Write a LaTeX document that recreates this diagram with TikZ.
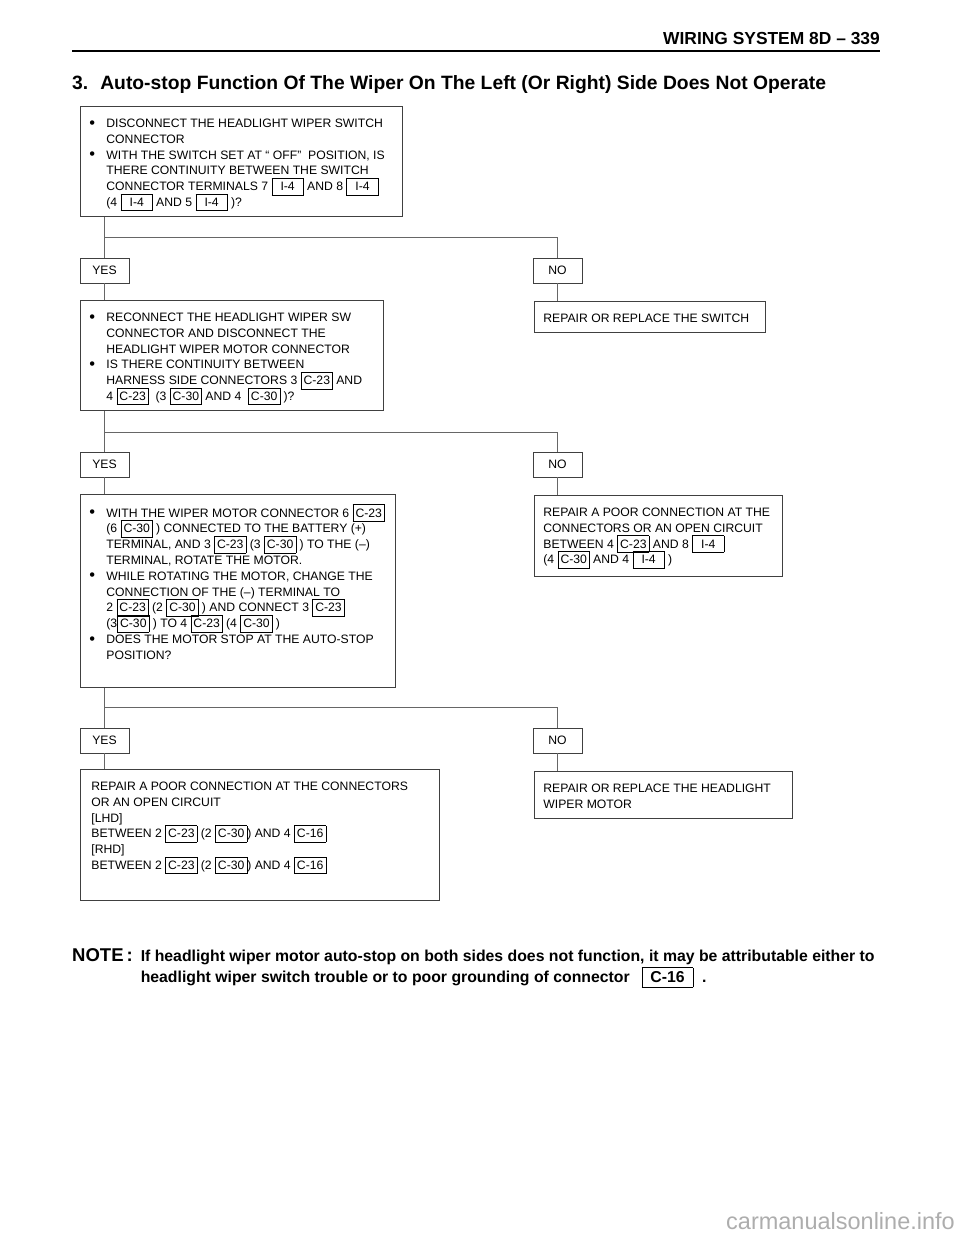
\documentclass[tikz,border=0pt]{standalone}
\usepackage{fontspec}
\setmainfont{Liberation Sans}
\usetikzlibrary{positioning}

\newcommand\bodyfont{\fontsize{12.2}{15.8}\selectfont}
% connector number in a small frame
\newcommand\conn[1]{{\setlength\fboxsep{0pt}\setlength\fboxrule{0.6pt}\fbox{\rule[-4pt]{0pt}{16pt}\hspace{2.5pt}\makebox[26pt]{#1}\hspace{2.5pt}}}}
\newcommand\bul{\par\hangindent=17pt\hangafter=1\noindent\makebox[17pt][l]{\strut\raisebox{-0.6pt}{\scalebox{1.35}{\textbullet}}}}
\newcommand\panel[3]{\begin{minipage}[t][#2pt][t]{#1pt}\lineskiplimit=-50pt\lineskip=0pt #3\end{minipage}}

\tikzset{
  stepbox/.style={draw=black!75, line width=0.8pt, anchor=north west, inner xsep=9pt, inner ysep=10pt, font=\bodyfont},
  answer/.style={draw=black!75, line width=0.8pt, minimum width=49pt, minimum height=25pt, inner sep=0pt, font=\bodyfont},
  link/.style={draw=black!60, line width=0.8pt},
}

\begin{document}
\begin{tikzpicture}[x=1pt, y=-1pt]
  \useasboundingbox (0,0) rectangle (960,1242);

  % Heading
  \node[anchor=base east, inner sep=0pt, font=\bfseries\fontsize{17.4}{20}\selectfont] (pagehead) at (880,44) {WIRING SYSTEM 8D – 339};
  \draw[line width=2.4pt] (72,51) -- (880,51);
  \node[anchor=base west, inner sep=0pt, font=\bfseries\fontsize{19.3}{22}\selectfont] (title) at (72,89) {3.\hspace{12pt}Auto-stop Function Of The Wiper On The Left (Or Right) Side Does Not Operate};

  % Checks
  \node[stepbox] (chk1) at (80,106) {\panel{304}{90}{%
    \bul DISCONNECT THE HEADLIGHT WIPER SWITCH\\CONNECTOR
    \bul WITH THE SWITCH SET AT “ OFF”\ \ POSITION, IS\\THERE CONTINUITY BETWEEN THE SWITCH\\CONNECTOR TERMINALS 7 \conn{I-4} AND 8 \conn{I-4}\\(4 \conn{I-4} AND 5 \conn{I-4} )?}};
  \node[answer] (yes1) at (104.5,270.5) {YES};
  \node[answer] (no1) at (557.5,270.5) {NO};
  \node[stepbox] (fix1) at (534,301) {\panel{213}{11}{\strut REPAIR OR REPLACE THE SWITCH}};

  \node[stepbox] (chk2) at (80,300) {\panel{285}{90}{%
    \bul RECONNECT THE HEADLIGHT WIPER SW\\CONNECTOR AND DISCONNECT THE\\HEADLIGHT WIPER MOTOR CONNECTOR
    \bul IS THERE CONTINUITY BETWEEN\\HARNESS SIDE CONNECTORS 3 \conn{C-23} AND\\4 \conn{C-23}\ \ (3 \conn{C-30} AND 4\ \ \conn{C-30} )?}};
  \node[answer] (yes2) at (104.5,464.5) {YES};
  \node[answer] (no2) at (557.5,464.5) {NO};
  \node[stepbox] (fix2) at (534,495) {\panel{230}{61}{\strut REPAIR A POOR CONNECTION AT THE\\CONNECTORS OR AN OPEN CIRCUIT\\BETWEEN 4 \conn{C-23} AND 8 \conn{I-4}\\(4 \conn{C-30} AND 4 \conn{I-4} )}};

  \node[stepbox] (chk3) at (80,494) {\panel{297}{173}{%
    \bul WITH THE WIPER MOTOR CONNECTOR 6 \conn{C-23}\\(6 \conn{C-30} ) CONNECTED TO THE BATTERY (+)\\TERMINAL, AND 3 \conn{C-23} (3 \conn{C-30} ) TO THE (–)\\TERMINAL, ROTATE THE MOTOR.
    \bul WHILE ROTATING THE MOTOR, CHANGE THE\\CONNECTION OF THE (–) TERMINAL TO\\2 \conn{C-23} (2 \conn{C-30} ) AND CONNECT 3 \conn{C-23}\\(3\conn{C-30} ) TO 4 \conn{C-23} (4 \conn{C-30} )
    \bul DOES THE MOTOR STOP AT THE AUTO-STOP\\POSITION?}};
  \node[answer] (yes3) at (104.5,740.5) {YES};
  \node[answer] (no3) at (557.5,740.5) {NO};
  \node[stepbox] (fix3) at (534,771) {\panel{240}{27}{\strut REPAIR OR REPLACE THE HEADLIGHT\\WIPER MOTOR}};
  \node[stepbox, inner xsep=11pt] (fix4) at (80,769) {\panel{337}{111}{\strut REPAIR A POOR CONNECTION AT THE CONNECTORS\\OR AN OPEN CIRCUIT\\{[LHD]}\\BETWEEN 2 \conn{C-23} (2 \conn{C-30}) AND 4 \conn{C-16}\\{[RHD]}\\BETWEEN 2 \conn{C-23} (2 \conn{C-30}) AND 4 \conn{C-16}}};

  % Forks
  \coordinate (fork1) at (104,237);
  \coordinate (fork2) at (104,432);
  \coordinate (fork3) at (104,707);

  % Connections
  \draw[link] (chk1.south -| yes1.north) -- (yes1.north);
  \draw[link] (fork1 -| yes1.north) -| (no1.north);
  \draw[link] (yes1.south) -- (yes1.south |- chk2.north);
  \draw[link] (no1.south) -- (no1.south |- fix1.north);
  \draw[link] (chk2.south -| yes2.north) -- (yes2.north);
  \draw[link] (fork2 -| yes2.north) -| (no2.north);
  \draw[link] (yes2.south) -- (yes2.south |- chk3.north);
  \draw[link] (no2.south) -- (no2.south |- fix2.north);
  \draw[link] (chk3.south -| yes3.north) -- (yes3.north);
  \draw[link] (fork3 -| yes3.north) -| (no3.north);
  \draw[link] (yes3.south) -- (yes3.south |- fix4.north);
  \draw[link] (no3.south) -- (no3.south |- fix3.north);

  % Note
  \node[anchor=north west, inner sep=0pt, font=\bfseries\fontsize{15.8}{20}\selectfont] (note) at (72,947) {%
    \begin{tabular}{@{}l@{\hspace{8pt}}l@{}}
      {\fontsize{18.5}{20}\selectfont NOTE\hspace{3pt}:} & If headlight wiper motor auto-stop on both sides does not function, it may be attributable either to\\
      & headlight wiper switch trouble or to poor grounding of connector\hspace{12pt}{\setlength\fboxsep{0pt}\setlength\fboxrule{0.7pt}\fbox{\rule[-4.5pt]{0pt}{19pt}\hspace{8pt}C-16\hspace{8pt}}}\ \ .
    \end{tabular}};

  % Watermark
  \node[anchor=base east, inner sep=0pt, text=black!32, font=\fontsize{23.5}{26}\selectfont] (mark) at (955,1229) {carmanualsonline.info};
\end{tikzpicture}
\end{document}
